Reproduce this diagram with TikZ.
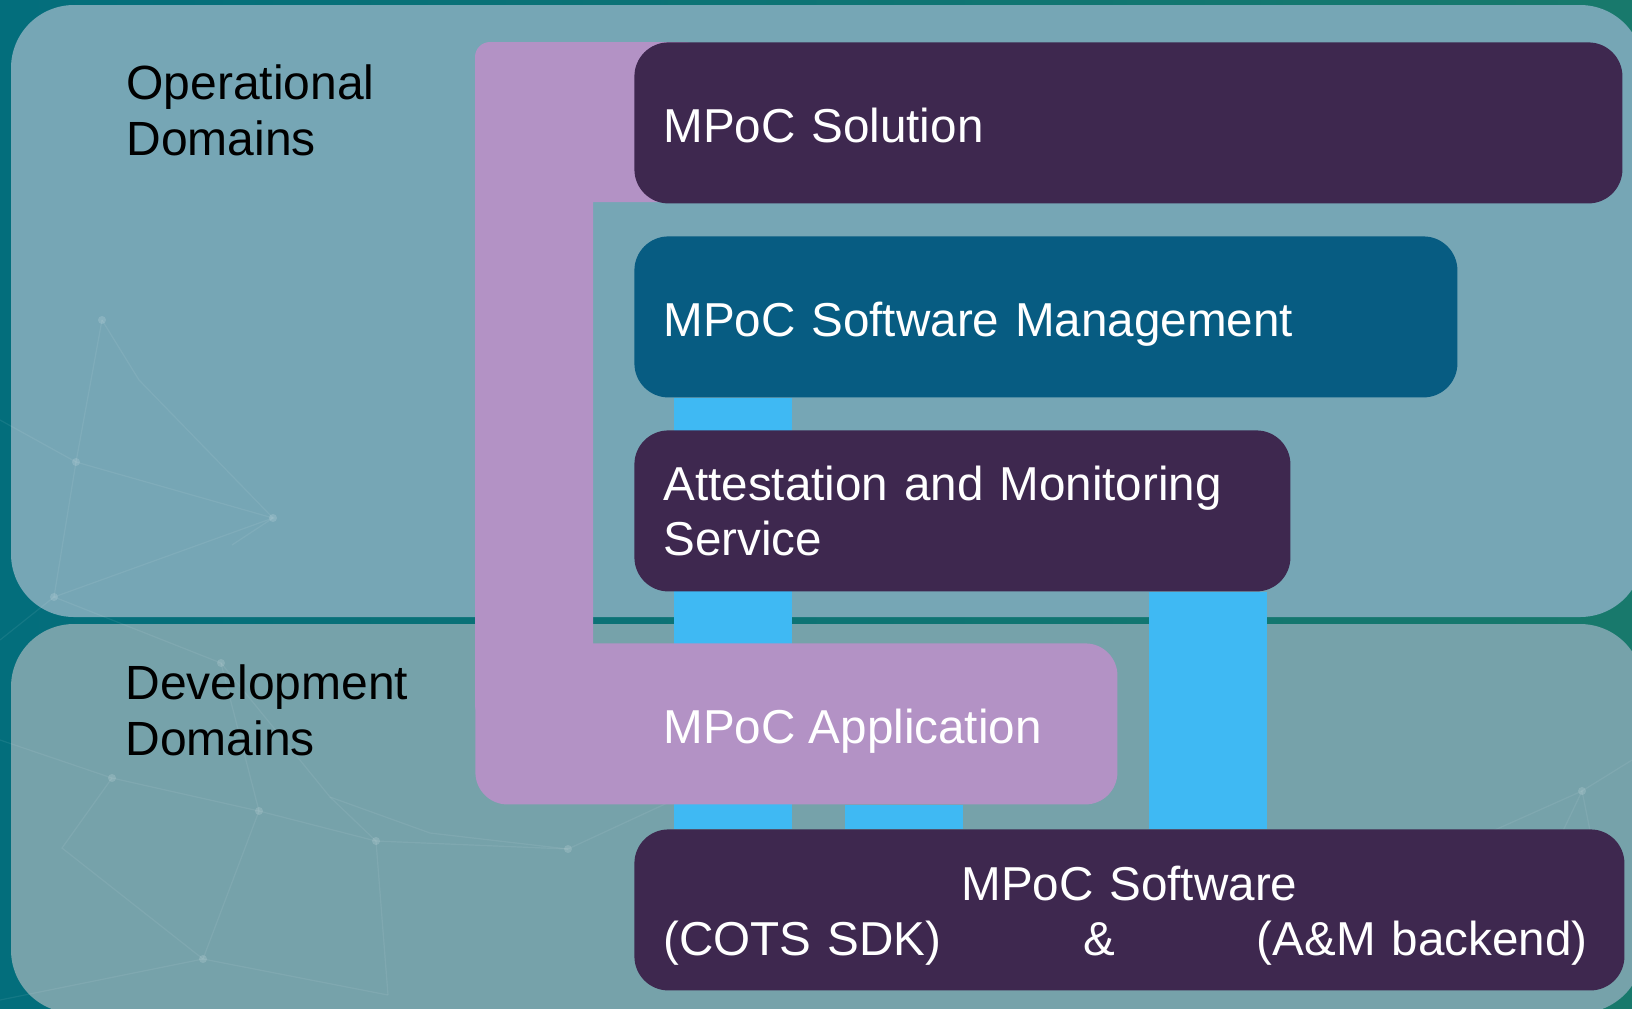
\documentclass[tikz,border=0pt]{standalone}
\usepackage{fontspec}
\setmainfont{Liberation Sans}
\usetikzlibrary{positioning}

\definecolor{bgleft}{HTML}{036E7C}
\definecolor{bgright}{HTML}{18796C}
\definecolor{panel}{HTML}{76A6B5}
\definecolor{panellow}{HTML}{76A2AA}
\definecolor{plum}{HTML}{3E284F}
\definecolor{lilac}{HTML}{B392C5}
\definecolor{navy}{HTML}{075C82}
\definecolor{skyblue}{HTML}{3FB9F3}

\pgfdeclarelayer{back}
\pgfdeclarelayer{mid}
\pgfsetlayers{back,mid,main}

\begin{document}
\begin{tikzpicture}[x=0.5pt, y=-0.5pt,
    box/.style={rounded corners=17pt, inner xsep=14.5pt, inner ysep=0pt, align=left,
      text=white, font=\fontsize{23.8}{27.5}\selectfont, anchor=north west,
      minimum height=80.5pt},
    oneline/.style={text height=20pt, text depth=0pt},
    boxtext/.style={inner sep=0pt, text=white, font=\fontsize{23.8}{27.5}\selectfont},
    domlabel/.style={align=left, anchor=base west, inner sep=0pt,
      font=\fontsize{24}{28}\selectfont},
    linkbar/.style={line width=59pt, skyblue},
    netline/.style={white, opacity=.07, line width=.6pt},
    netdot/.style={circle, fill=white, opacity=.14, inner sep=0pt, minimum size=4pt},
  ]
  \useasboundingbox (0,0) rectangle (1632,1008);

  \begin{pgfonlayer}{back}
    \shade[left color=bgleft, right color=bgright] (0,0) rectangle (1632,1008);
    \fill[panel, rounded corners=31.5pt] (11,5) rectangle (1643,617);
    \fill[panellow, rounded corners=31.5pt] (11,624) rectangle (1643,1013);
    % faint network in the background
    \draw[netline] (102,320) -- (76,462) -- (273,518) -- (54,597) -- (221,663) -- (259,811)
      -- (376,841) -- (568,849) -- (760,760);
    \draw[netline] (102,320) -- (139,380) -- (273,518) -- (232,545);
    \draw[netline] (0,420) -- (76,462) -- (54,597) -- (0,640);
    \draw[netline] (0,740) -- (112,778) -- (259,811) -- (203,959) -- (0,1000);
    \draw[netline] (112,778) -- (62,848) -- (203,959) -- (388,995);
    \draw[netline] (330,797) -- (376,841) -- (388,995);
    \draw[netline] (221,663) -- (330,797) -- (430,833) -- (568,849);
    \draw[netline] (1450,850) -- (1582,791) -- (1632,760);
    \draw[netline] (1530,900) -- (1582,791) -- (1600,880);
    \node[netdot] (d1) at (102,320) {};
    \node[netdot] (d2) at (76,462) {};
    \node[netdot] (d3) at (273,518) {};
    \node[netdot] (d4) at (54,597) {};
    \node[netdot] (d5) at (221,663) {};
    \node[netdot] (d6) at (112,778) {};
    \node[netdot] (d7) at (259,811) {};
    \node[netdot] (d8) at (376,841) {};
    \node[netdot] (d9) at (203,959) {};
    \node[netdot] (d10) at (568,849) {};
    \node[netdot] (d11) at (1582,791) {};
  \end{pgfonlayer}

  % domain labels (base is the last line)
  \node[domlabel] (opdom) at (126,155) {Operational\\Domains};
  \node[domlabel] (devdom) at (125,755) {Development\\Domains};

  % purple bracket behind the solution box
  \fill[lilac, rounded corners=7.5pt] (475,42) rectangle (700,202) (475,42) rectangle (593,720);

  \node[box, oneline, fill=plum, text width=465pt] (sol) at (634,42) {MPoC Solution};
  \node[box, oneline, fill=navy, text width=382.5pt] (mgmt) at (634,236) {MPoC Software Management};
  \node[box, fill=plum, text width=299pt] (att) at (634,430) {Attestation and Monitoring\\Service};
  \node[box, fill=lilac, text width=292pt, rounded corners=16pt] (app) at (475,643) {};
  \node[boxtext, anchor=base west] (applbl) at ([xshift=94pt, yshift=-9.75pt]app.west) {MPoC Application};
  \node[box, fill=plum, text width=466pt, align=center] (sw) at (634,829)
    {\rule{0pt}{23pt}MPoC Software\\(COTS SDK)\hfill\&\hfill(A\&M backend)\hspace*{4pt}};

  % links down to the software
  \begin{pgfonlayer}{mid}
    \draw[linkbar] ([xshift=49.5pt]mgmt.south west) -- ([xshift=49.5pt]mgmt.south west |- sw.north);
    \draw[linkbar] ([xshift=214.25pt]app.south west) -- ([xshift=214.25pt]app.south west |- sw.north);
    \draw[linkbar] ([xshift=286.75pt]att.south west) -- ([xshift=286.75pt]att.south west |- sw.north);
  \end{pgfonlayer}
\end{tikzpicture}
\end{document}
